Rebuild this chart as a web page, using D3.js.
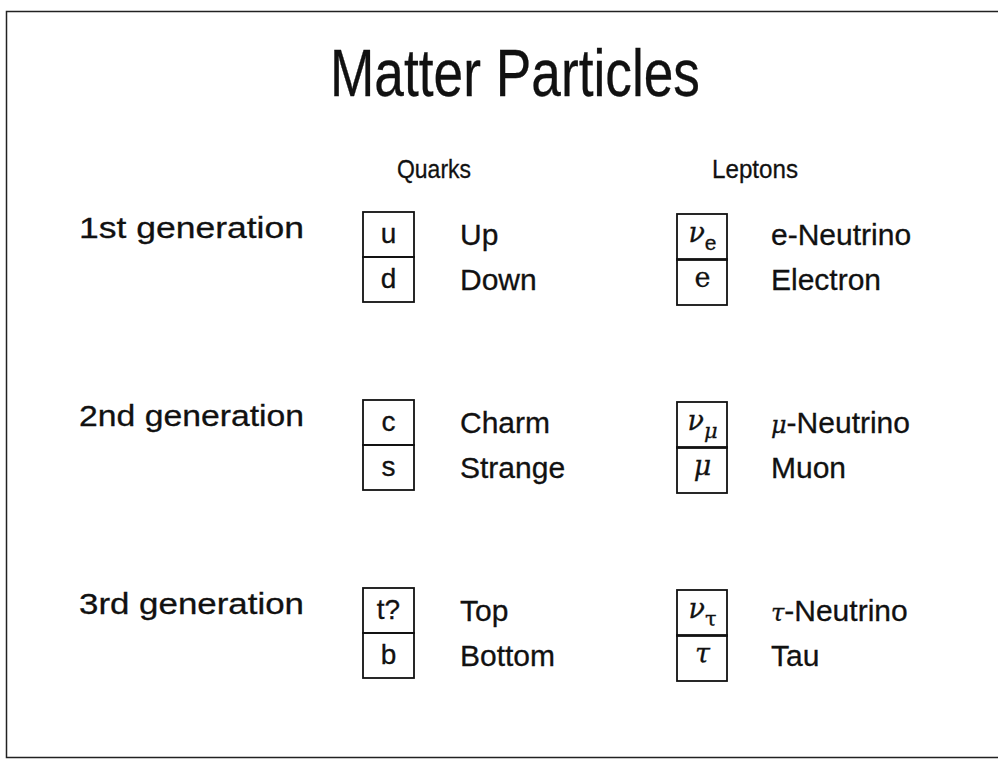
<!DOCTYPE html>
<html>
<head>
<meta charset="utf-8">
<script src="https://cdn.jsdelivr.net/npm/d3@7"></script>
<style>
  body { margin: 0; background: #fff; }
  text { font-family: "Liberation Sans", Arial, sans-serif; fill: #111; stroke: #111; stroke-width: 0.3px; }
</style>
</head>
<body>
<svg id="chart"></svg>
<script>
let w = 998;
let h = 761;
let svg = d3.select("#chart");

let title = "Matter Particles";
let headers = ["Quarks", "Leptons"];
let generations = ["1st generation", "2nd generation", "3rd generation"];
let quarkSymbols = [["u", "d"], ["c", "s"], ["t?", "b"]];
let quarkNames = [["Up", "Down"], ["Charm", "Strange"], ["Top", "Bottom"]];
// lepton symbols: [main, subscript]
let leptonSymbols = [[["ν", "e"], ["e", ""]], [["ν", "μ"], ["μ", ""]], [["ν", "τ"], ["τ", ""]]];
let leptonNames = [[["", "e-Neutrino"], ["", "Electron"]], [["μ", "-Neutrino"], ["", "Muon"]], [["τ", "-Neutrino"], ["", "Tau"]]];

let yScale;
let xScale;
let boxW = 51;
let cellH = 45;

let drawCanvas = () => {
    svg.attr("width", w)
       .attr("height", h)

    // frame
    svg.append("path")
       .attr("d", "M998,11.5 L6.5,11.5 L6.5,757.5 L998,757.5")
       .attr("fill", "none")
       .attr("stroke", "#222")
       .attr("stroke-width", 1.5)

    svg.append("text")
       .attr("x", 515)
       .attr("y", 96)
       .attr("text-anchor", "middle")
       .attr("font-size", 66)
       .attr("textLength", 370)
       .attr("lengthAdjust", "spacingAndGlyphs")
       .text(title)
}

let generateScales = () => {
    yScale = d3.scalePoint()
               .domain(generations)
               .range([212, 588])

    xScale = d3.scaleOrdinal()
               .domain(["label", "qBox", "qName", "lBox", "lName"])
               .range([79, 363, 460, 677, 771])
}

let isGreek = (s) => /[μτν]/.test(s);

let drawHeaders = () => {
    svg.selectAll(".header")
       .data(headers)
       .enter()
       .append("text")
       .attr("class", "header")
       .attr("x", (d, i) => i == 0 ? 397 : 712)
       .attr("y", 178)
       .attr("font-size", 26)
       .attr("textLength", (d, i) => i == 0 ? 74 : 86)
       .attr("lengthAdjust", "spacingAndGlyphs")
       .text((d) => d)

    svg.selectAll(".gen")
       .data(generations)
       .enter()
       .append("text")
       .attr("class", "gen")
       .attr("x", xScale("label"))
       .attr("y", (d) => yScale(d) + 26)
       .attr("font-size", 30)
       .attr("textLength", 225)
       .attr("lengthAdjust", "spacingAndGlyphs")
       .text((d) => d)
}

let drawBoxes = () => {
    generations.forEach((g, gi) => {
        let y0 = yScale(g);

        // quark boxes
        quarkSymbols[gi].forEach((s, i) => {
            let y = y0 + i * cellH;
            svg.append("rect")
               .attr("x", xScale("qBox"))
               .attr("y", y)
               .attr("width", boxW)
               .attr("height", cellH)
               .attr("fill", "none")
               .attr("stroke", "#111")
               .attr("stroke-width", 1.8)
            svg.append("text")
               .attr("x", xScale("qBox") + boxW / 2)
               .attr("y", y + 31)
               .attr("text-anchor", "middle")
               .attr("font-size", 28)
               .text(s)
            svg.append("text")
               .attr("x", xScale("qName"))
               .attr("y", y + 33)
               .attr("font-size", 30)
               .text(quarkNames[gi][i])
        })

        // lepton boxes
        leptonSymbols[gi].forEach((s, i) => {
            let y = y0 + 2 + i * cellH;
            svg.append("rect")
               .attr("x", xScale("lBox"))
               .attr("y", y)
               .attr("width", boxW - 1)
               .attr("height", cellH + 1)
               .attr("fill", "none")
               .attr("stroke", "#111")
               .attr("stroke-width", 1.8)
            let t = svg.append("text")
               .attr("x", xScale("lBox") + boxW / 2)
               .attr("y", y + 28)
               .attr("text-anchor", "middle")
               .attr("font-size", 27)
            t.append("tspan")
             .attr("font-family", "DejaVu Serif, serif")
             .attr("font-style", isGreek(s[0]) ? "italic" : "normal")
             .text(s[0])
            if (s[1]) {
                t.append("tspan")
                 .attr("dy", 8)
                 .attr("font-size", 21)
                 .attr("font-style", s[1] == "μ" ? "italic" : "normal")
                 .attr("font-family", isGreek(s[1]) ? "DejaVu Serif, serif" : null)
                 .text(s[1])
            }

            let n = leptonNames[gi][i];
            let nt = svg.append("text")
               .attr("x", xScale("lName"))
               .attr("y", y + 31)
               .attr("font-size", 30)
            if (n[0]) {
                nt.append("tspan")
                  .attr("font-family", "DejaVu Serif, serif")
                  .attr("font-style", "italic")
                  .attr("font-size", 24)
                  .text(n[0])
            }
            nt.append("tspan").text(n[1])
        })
    })
}

drawCanvas()
generateScales()
drawHeaders()
drawBoxes()
</script>
</body>
</html>
